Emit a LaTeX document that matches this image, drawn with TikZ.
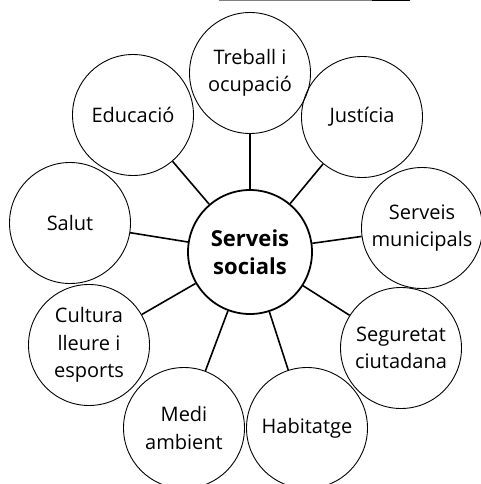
\documentclass[tikz,border=0pt]{standalone}
\usepackage{fontspec}
\setmainfont{Open Sans}
\begin{document}
\begin{tikzpicture}[x=1pt,y=-1pt,
  topic/.style={circle,draw=black,line width=0.9pt,minimum size=121pt,inner sep=0pt,align=center,
    font=\fontsize{20}{27.5}\selectfont},
  hub/.style={circle,draw=black,line width=1.8pt,minimum size=124pt,inner sep=0pt,align=center,
    font=\fontsize{22}{28}\selectfont\bfseries},
  spoke/.style={line width=1.6pt}]
\useasboundingbox (0,0) rectangle (481,484);
\clip (0,0) rectangle (481,484);
\coordinate (t1) at (219,0.6);
\coordinate (t2) at (372,0.6);
\coordinate (t3) at (410,0.6);
\draw[gray,line width=0.8pt] (t1) -- (t2);
\draw[black,line width=1.6pt] (t2) -- (t3);
\node[hub] (c) at (250,252) {Serveis\\socials};
\node[topic] (tr) at (250,73) {Treball i\\ocupació};
\node[topic] (ed) at (133,115) {Educació};
\node[topic] (ju) at (362,117) {Justícia};
\node[topic] (sa) at (70,223) {Salut};
\node[topic] (sm) at (422,228) {Serveis\\municipals};
\node[topic] (cu) at (89,345) {Cultura\\lleure i\\esports};
\node[topic] (se) at (401,348) {Seguretat\\ciutadana};
\node[topic] (me) at (184,428) {Medi\\ambient};
\node[topic] (ha) at (307,428) {Habitatge};
\foreach \n in {tr,ed,ju,sa,sm,cu,se,me,ha}
  \draw[spoke] (c) -- (\n);
\end{tikzpicture}
\end{document}
